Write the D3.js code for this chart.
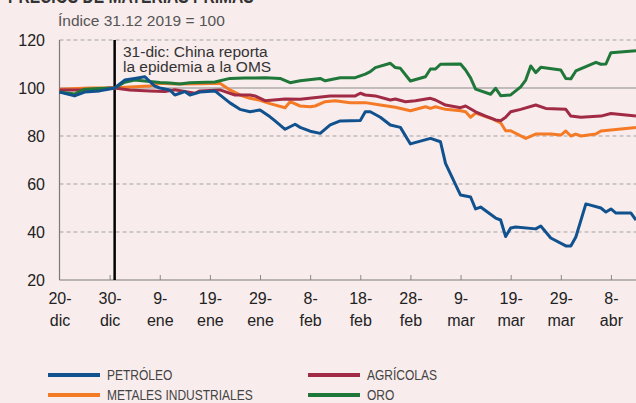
<!DOCTYPE html>
<html>
<head>
<meta charset="utf-8">
<script src="https://cdn.jsdelivr.net/npm/d3@7"></script>
<style>
  html, body { margin: 0; padding: 0; background: #f8ecec; }
  svg { display: block; }
  text { font-family: "Liberation Sans", Arial, sans-serif; }
</style>
</head>
<body>
<svg id="chart" width="636" height="403"></svg>
<script>
// datos (indice 31.12.2019 = 100)
var tickFechas = ["2019-12-20", "2019-12-30", "2020-01-09", "2020-01-19", "2020-01-29", "2020-02-08",
                  "2020-02-18", "2020-02-28", "2020-03-09", "2020-03-19", "2020-03-29", "2020-04-08"];
var tickDias = ["20-", "30-", "9-", "19-", "29-", "8-", "18-", "28-", "9-", "19-", "29-", "8-"];
var tickMeses = ["dic", "dic", "ene", "ene", "ene", "feb", "feb", "feb", "mar", "mar", "mar", "abr"];
var yTicks = [20, 40, 60, 80, 100, 120];

var fechasPetroleo = ["2019-12-20", "2019-12-23", "2019-12-25", "2019-12-28", "2019-12-30", "2019-12-31",
  "2020-01-02", "2020-01-04", "2020-01-06", "2020-01-08", "2020-01-09", "2020-01-11", "2020-01-12",
  "2020-01-14", "2020-01-15", "2020-01-17", "2020-01-20", "2020-01-21", "2020-01-23", "2020-01-25",
  "2020-01-27", "2020-01-29", "2020-01-31", "2020-02-01", "2020-02-03", "2020-02-05", "2020-02-06",
  "2020-02-08", "2020-02-10", "2020-02-12", "2020-02-14", "2020-02-18", "2020-02-19", "2020-02-20",
  "2020-02-22", "2020-02-24", "2020-02-26", "2020-02-28", "2020-03-03", "2020-03-05", "2020-03-06",
  "2020-03-09", "2020-03-11", "2020-03-12", "2020-03-13", "2020-03-16", "2020-03-17", "2020-03-18",
  "2020-03-19", "2020-03-20", "2020-03-24", "2020-03-25", "2020-03-27", "2020-03-30", "2020-03-31",
  "2020-04-01", "2020-04-03", "2020-04-06", "2020-04-07", "2020-04-08", "2020-04-09", "2020-04-12",
  "2020-04-13"];
var petroleo = [98.3, 96.7, 98.3, 98.8, 99.6, 100,
  103.3, 104, 104.7, 100.8, 100, 99.2, 97.1,
  98.5, 97.1, 98.3, 98.8, 97.1, 93.8, 91.1,
  90.1, 90.8, 88, 86.3, 82.8, 84.9, 83.6,
  82, 81.1, 84.6, 86.3, 86.5, 90.1, 90.1,
  87.8, 84.6, 83.6, 76.7, 79, 77.6, 68.6,
  55.4, 54.6, 49.6, 50.4, 45.8, 45, 38.1,
  41.7, 42.1, 41.3, 42.5, 37.5, 34.2, 34.2,
  37.9, 51.7, 50, 48.3, 49.6, 47.9, 47.9,
  45];

var fechasAgricolas = ["2019-12-20", "2019-12-26", "2019-12-30", "2019-12-31", "2020-01-03", "2020-01-07",
  "2020-01-10", "2020-01-12", "2020-01-16", "2020-01-17", "2020-01-21", "2020-01-24", "2020-01-27",
  "2020-01-28", "2020-01-30", "2020-02-03", "2020-02-06", "2020-02-12", "2020-02-17", "2020-02-18",
  "2020-02-19", "2020-02-21", "2020-02-24", "2020-02-25", "2020-02-27", "2020-02-29", "2020-03-03",
  "2020-03-04", "2020-03-06", "2020-03-09", "2020-03-10", "2020-03-12", "2020-03-14", "2020-03-16",
  "2020-03-17", "2020-03-18", "2020-03-19", "2020-03-21", "2020-03-24", "2020-03-26", "2020-03-30",
  "2020-03-31", "2020-04-02", "2020-04-06", "2020-04-08", "2020-04-13"];
var agricolas = [99.2, 99.2, 100, 100, 99.2, 98.8,
  98.5, 99.3, 97.8, 98.8, 99.2, 97.1, 97.1,
  96.7, 94.7, 95.4, 95.3, 96.7, 96.7, 97.8,
  97.1, 96.7, 95, 95.4, 94.3, 94.7, 95.7,
  95, 92.9, 91.8, 92.5, 90.1, 88.3, 86.7,
  86.4, 87.8, 90.1, 91.1, 92.9, 91.5, 91.1,
  88.3, 87.8, 88.3, 89.4, 88.3];

var fechasMetales = ["2019-12-20", "2019-12-26", "2019-12-31", "2020-01-03", "2020-01-07", "2020-01-09",
  "2020-01-12", "2020-01-17", "2020-01-21", "2020-01-23", "2020-01-25", "2020-01-27", "2020-01-29",
  "2020-01-31", "2020-02-03", "2020-02-04", "2020-02-06", "2020-02-08", "2020-02-09", "2020-02-11",
  "2020-02-13", "2020-02-16", "2020-02-19", "2020-02-22", "2020-02-25", "2020-02-28", "2020-03-02",
  "2020-03-03", "2020-03-04", "2020-03-06", "2020-03-09", "2020-03-10", "2020-03-11", "2020-03-12",
  "2020-03-15", "2020-03-17", "2020-03-18", "2020-03-19", "2020-03-22", "2020-03-24", "2020-03-27",
  "2020-03-29", "2020-03-30", "2020-03-31", "2020-04-01", "2020-04-02", "2020-04-05", "2020-04-06",
  "2020-04-13"];
var metales = [99.5, 100, 100, 100.4, 100.8, 102,
  101.7, 101.8, 102, 99.2, 97.1, 95.7, 94.9,
  93.5, 91.8, 94.3, 92.5, 92.2, 92.5, 94.3,
  94.7, 93.9, 93.9, 92.9, 92, 90.5, 92.2,
  91.5, 92.2, 91.1, 90.5, 90.1, 87.8, 89.5,
  87.4, 85.5, 82.2, 82.2, 79, 80.8, 80.8,
  80.4, 82.1, 80, 80.8, 80, 80.8, 82.1,
  83.5];

var fechasOro = ["2019-12-20", "2019-12-23", "2019-12-25", "2019-12-28", "2019-12-31", "2020-01-02",
  "2020-01-04", "2020-01-06", "2020-01-09", "2020-01-11", "2020-01-13", "2020-01-15", "2020-01-20",
  "2020-01-23", "2020-01-26", "2020-01-28", "2020-01-30", "2020-02-02", "2020-02-04", "2020-02-06",
  "2020-02-10", "2020-02-11", "2020-02-14", "2020-02-17", "2020-02-19", "2020-02-20", "2020-02-21",
  "2020-02-24", "2020-02-25", "2020-02-26", "2020-02-28", "2020-03-02", "2020-03-03", "2020-03-04",
  "2020-03-05", "2020-03-09", "2020-03-10", "2020-03-11", "2020-03-12", "2020-03-15", "2020-03-16",
  "2020-03-17", "2020-03-19", "2020-03-21", "2020-03-22", "2020-03-23", "2020-03-24", "2020-03-25",
  "2020-03-29", "2020-03-30", "2020-03-31", "2020-04-01", "2020-04-05", "2020-04-06", "2020-04-07",
  "2020-04-08", "2020-04-13"];
var oro = [98.3, 97.5, 99.5, 99.8, 100, 102.4,
  103.3, 102.9, 102.3, 102.1, 101.7, 102.2, 102.5,
  104, 104.2, 104.2, 104.3, 104, 102.2, 103,
  104, 103, 104.3, 104.3, 105.8, 106.8, 108.5,
  110.3, 108.5, 108.2, 102.9, 104.7, 107.9, 107.9,
  109.9, 110, 107.5, 104.2, 99.5, 97.4, 99.9,
  96.8, 97.1, 100.5, 103.3, 109.2, 106.4, 108.6,
  107.5, 104, 103.8, 107.1, 110.7, 109.9, 110,
  114.7, 115.5];

var series = [
  { nombre: "METALES INDUSTRIALES", fechas: fechasMetales, valores: metales, color: "#f47a26" },
  { nombre: "AGRÍCOLAS", fechas: fechasAgricolas, valores: agricolas, color: "#a12b45" },
  { nombre: "ORO", fechas: fechasOro, valores: oro, color: "#1f773a" },
  { nombre: "PETRÓLEO", fechas: fechasPetroleo, valores: petroleo, color: "#11528e" }
];
var leyenda = ["PETRÓLEO", "AGRÍCOLAS", "METALES INDUSTRIALES", "ORO"];

(function() {
var parse = d3.timeParse("%Y-%m-%d");
var svg = d3.select("#chart");

var mLeft = 59.5, mRight = 636, mTop = 40, mBottom = 280;

var x = d3.scaleTime()
    .domain([parse("2019-12-20"), parse("2020-04-13")])
    .range([mLeft, mRight]);
var y = d3.scaleLinear().domain([20, 120]).range([mBottom, mTop]);

// titulo cortado arriba (letra condensada)
svg.append("text")
    .attr("transform", "translate(8,2.5) scale(0.78,1)")
    .attr("font-size", "20px").attr("font-weight", "bold")
    .attr("fill", "#333")
    .text("PRECIOS DE MATERIAS PRIMAS");

svg.append("text")
    .attr("x", 58).attr("y", 26)
    .attr("font-size", "15.5px").attr("fill", "#555")
    .text("Índice 31.12 2019 = 100");

// rejilla
var grid = svg.append("g");
yTicks.filter(function(t) { return t > 20; }).forEach(function(t) {
    grid.append("line")
        .attr("x1", mLeft).attr("x2", mRight)
        .attr("y1", y(t)).attr("y2", y(t))
        .attr("stroke", t === 100 ? "#8a8a8a" : "#a3a3a3")
        .attr("stroke-width", t === 100 ? 1.2 : 1)
        .style("stroke-dasharray", t === 100 ? null : "4, 3");
});

// eje y
svg.append("g")
    .selectAll("text")
    .data(yTicks).enter()
    .append("text")
    .attr("x", 45).attr("y", function(d) { return y(d); })
    .attr("dy", "0.36em")
    .attr("text-anchor", "end")
    .attr("font-size", "16px").attr("fill", "#222")
    .text(function(d) { return d; });

// eje x
var xAxis = d3.axisBottom(x)
    .tickValues(tickFechas.map(parse))
    .tickSize(0)
    .tickFormat(function(d, i) { return tickDias[i]; });

var gx = svg.append("g")
    .attr("transform", "translate(0," + mBottom + ")")
    .call(xAxis);
gx.select(".domain").remove();
gx.selectAll(".tick line").remove();
gx.selectAll(".tick").each(function(d, i) {
    var t = d3.select(this).select("text");
    t.text(null)
        .attr("y", 0).attr("dy", null)
        .attr("font-size", "16px").attr("fill", "#222")
        .style("font-family", "'Liberation Sans', Arial, sans-serif");
    t.append("tspan").attr("x", 0).attr("y", 24).text(tickDias[i]);
    t.append("tspan").attr("x", 0).attr("y", 46).text(tickMeses[i]);
    if (i > 0) {
        d3.select(this).append("line")
            .attr("y1", 0).attr("y2", -5)
            .attr("stroke", "#8a8a8a").attr("stroke-width", 1);
    }
});

svg.append("line")
    .attr("x1", mLeft).attr("x2", mRight)
    .attr("y1", mBottom).attr("y2", mBottom)
    .attr("stroke", "#7a7a7a").attr("stroke-width", 1.2);
svg.append("line")
    .attr("x1", mLeft).attr("x2", mLeft)
    .attr("y1", mTop).attr("y2", mBottom)
    .attr("stroke", "#7a7a7a").attr("stroke-width", 1.2);

// linea 31-dic
var xDic = x(parse("2019-12-31"));
svg.append("line")
    .attr("x1", xDic).attr("x2", xDic)
    .attr("y1", mTop).attr("y2", mBottom)
    .attr("stroke", "#000").attr("stroke-width", 2.5);

var nota = svg.append("text")
    .attr("font-size", "15.5px").attr("fill", "#333");
nota.append("tspan").attr("x", 123).attr("y", 57).text("31-dic: China reporta");
nota.append("tspan").attr("x", 123).attr("y", 72).text("la epidemia a la OMS");

// series
var line = d3.line()
    .x(function(d) { return x(d.fecha); })
    .y(function(d) { return y(d.valor); });

series.forEach(function(s) {
    var datos = s.fechas.map(function(f, i) { return { fecha: parse(f), valor: s.valores[i] }; });
    svg.append("path")
        .datum(datos)
        .attr("fill", "none")
        .attr("stroke", s.color)
        .attr("stroke-width", 3)
        .attr("stroke-linejoin", "round")
        .attr("d", line);
});

// leyenda
var colores = {};
series.forEach(function(s) { colores[s.nombre] = s.color; });
var leg = svg.append("g");
leyenda.forEach(function(nombre, i) {
    var lx = i % 2 === 0 ? 48 : 308;
    var ly = i < 2 ? 375 : 395;
    leg.append("line")
        .attr("x1", lx).attr("x2", lx + 52)
        .attr("y1", ly).attr("y2", ly)
        .attr("stroke", colores[nombre]).attr("stroke-width", 4);
    leg.append("text")
        .attr("transform", "translate(" + (lx + 59) + "," + (ly + 5) + ") scale(0.8,1)")
        .attr("font-size", "15px").attr("fill", "#444")
        .text(nombre);
});
})();
</script>
</body>
</html>
